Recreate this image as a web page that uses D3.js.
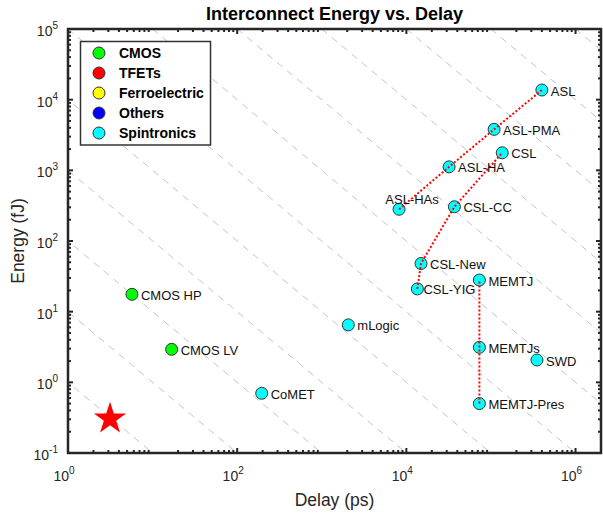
<!DOCTYPE html>
<html>
<head>
<meta charset="utf-8">
<script src="https://cdn.jsdelivr.net/npm/d3@7"></script>
<style>
  body { margin: 0; background: #fff; }
  svg { display: block; font-family: "Liberation Sans", Arial, sans-serif; }
</style>
</head>
<body>
<div id="fig"></div>
<script>
// data
const names = ["ASL", "ASL-PMA", "CSL", "ASL-HA", "ASL-HAs", "CSL-CC", "CSL-New", "CSL-YIG",
  "MEMTJ", "MEMTJs", "MEMTJ-Pres", "SWD", "mLogic", "CoMET", "CMOS HP", "CMOS LV"];
const delays = [4.0e5, 1.09e5, 1.36e5, 3.2e4, 8.2e3, 3.7e4, 1.49e4, 1.35e4,
  7.3e4, 7.3e4, 7.3e4, 3.5e5, 2.06e3, 195, 5.7, 16.8];
const energies = [1.37e4, 3.8e3, 1.77e3, 1.12e3, 281, 305, 48, 21,
  28, 3.13, 0.5, 2.07, 6.5, 0.7, 17.6, 2.93];
const groups = ["Spintronics", "Spintronics", "Spintronics", "Spintronics", "Spintronics",
  "Spintronics", "Spintronics", "Spintronics", "Spintronics", "Spintronics", "Spintronics",
  "Spintronics", "Spintronics", "Spintronics", "CMOS", "CMOS"];

const categories = ["CMOS", "TFETs", "Ferroelectric", "Others", "Spintronics"];
const catColors = ["#00ff00", "#ff0000", "#ffff00", "#0000ff", "#00ffff"];

// dotted red trend lines
const chains = [
  ["ASL-HAs", "ASL-HA", "ASL-PMA", "ASL"],
  ["CSL-YIG", "CSL-New", "CSL-CC", "CSL"],
  ["MEMTJ-Pres", "MEMTJs", "MEMTJ"]
];

const target = { delay: 3.14, energy: 0.305 };

const xTicks = [1, 1e2, 1e4, 1e6];
const xExps = ["0", "2", "4", "6"];
const yTicks = [0.1, 1, 10, 1e2, 1e3, 1e4, 1e5];
const yExps = ["-1", "0", "1", "2", "3", "4", "5"];
const isoExps = d3.range(0, 12); // E*D = 10^k

function main() {
  const width = 603, height = 514;
  const left = 68, right = 601, top = 29, bottom = 453;
  const axisColor = "#262626";

  const svg = d3.select("#fig").append("svg")
    .attr("width", width)
    .attr("height", height);

  const x = d3.scaleLog().domain([1, 2e6]).range([left, right]);
  const y = d3.scaleLog().domain([0.1, 1e5]).range([bottom, top]);

  svg.append("clipPath").attr("id", "clip")
    .append("rect")
    .attr("x", left).attr("y", top)
    .attr("width", right - left).attr("height", bottom - top);

  // iso energy-delay lines
  svg.append("g")
    .attr("clip-path", "url(#clip)")
    .selectAll("line")
    .data(isoExps)
    .join("line")
      .attr("x1", k => x(Math.pow(10, k - 5)))
      .attr("y1", y(1e5))
      .attr("x2", k => x(Math.pow(10, k + 1)))
      .attr("y2", y(0.1))
      .attr("stroke", "#c4c4c4")
      .attr("stroke-width", 1)
      .attr("stroke-dasharray", "7,6");

  // axes with inward ticks on all sides
  const tickLen = 5, minorLen = 3;
  const xMinor = [], yMinor = [];
  for (let e = 0; e < 7; e++) for (let m = 2; m < 10; m++) {
    const v = m * Math.pow(10, e);
    if (v < 2e6) xMinor.push(v);
  }
  for (let e = -1; e < 5; e++) for (let m = 2; m < 10; m++) yMinor.push(m * Math.pow(10, e));

  const axes = svg.append("g")
    .attr("stroke", axisColor)
    .attr("stroke-width", 2);

  const xTickData = xTicks.map(v => ({ v, len: tickLen })).concat(xMinor.map(v => ({ v, len: minorLen })));
  const yTickData = yTicks.map(v => ({ v, len: tickLen })).concat(yMinor.map(v => ({ v, len: minorLen })));

  axes.selectAll(".xb").data(xTickData).join("line")
    .attr("x1", d => x(d.v)).attr("x2", d => x(d.v))
    .attr("y1", bottom).attr("y2", d => bottom - d.len);
  axes.selectAll(".xt").data(xTickData).join("line")
    .attr("class", "xt")
    .attr("x1", d => x(d.v)).attr("x2", d => x(d.v))
    .attr("y1", top).attr("y2", d => top + d.len);
  axes.selectAll(".yl").data(yTickData).join("line")
    .attr("class", "yl")
    .attr("y1", d => y(d.v)).attr("y2", d => y(d.v))
    .attr("x1", left).attr("x2", d => left + d.len);
  axes.selectAll(".yr").data(yTickData).join("line")
    .attr("class", "yr")
    .attr("y1", d => y(d.v)).attr("y2", d => y(d.v))
    .attr("x1", right).attr("x2", d => right - d.len);

  svg.append("rect")
    .attr("x", left).attr("y", top)
    .attr("width", right - left).attr("height", bottom - top)
    .attr("fill", "none")
    .attr("stroke", axisColor)
    .attr("stroke-width", 2.5);

  // tick labels
  const xl = svg.append("g").attr("fill", axisColor).attr("font-size", 14)
    .selectAll("text").data(xTicks).join("text")
      .attr("x", d => x(d) - 4)
      .attr("y", bottom + 28)
      .attr("text-anchor", "middle");
  xl.append("tspan").text("10");
  xl.append("tspan").attr("font-size", 10).attr("dy", -7).text((d, i) => xExps[i]);

  const yl = svg.append("g").attr("fill", axisColor).attr("font-size", 14)
    .selectAll("text").data(yTicks).join("text")
      .attr("x", 58)
      .attr("y", d => y(d) + 7)
      .attr("text-anchor", "end");
  yl.append("tspan").text("10");
  yl.append("tspan").attr("font-size", 10).attr("dy", -7).text((d, i) => yExps[i]);

  // title & axis labels
  svg.append("text")
    .attr("x", (left + right) / 2).attr("y", 20)
    .attr("text-anchor", "middle")
    .attr("font-weight", "bold").attr("font-size", 18)
    .attr("fill", "#000")
    .text("Interconnect Energy vs. Delay");
  svg.append("text")
    .attr("x", (left + right) / 2).attr("y", 506)
    .attr("text-anchor", "middle")
    .attr("font-size", 17.5)
    .attr("fill", axisColor)
    .text("Delay (ps)");
  svg.append("text")
    .attr("transform", `translate(23.5,${(top + bottom) / 2}) rotate(-90)`)
    .attr("text-anchor", "middle")
    .attr("font-size", 17.5)
    .attr("fill", axisColor)
    .text("Energy (fJ)");

  // points
  const points = names.map((n, i) => ({ name: n, d: delays[i], e: energies[i], g: groups[i] }));
  const color = d3.scaleOrdinal().domain(categories).range(catColors);

  svg.append("g").selectAll("circle").data(points).join("circle")
    .attr("cx", p => x(p.d))
    .attr("cy", p => y(p.e))
    .attr("r", 6)
    .attr("fill", p => color(p.g))
    .attr("stroke", "#333")
    .attr("stroke-width", 1);

  const byName = new Map(points.map(p => [p.name, p]));
  const line = d3.line().x(p => x(p.d)).y(p => y(p.e));
  svg.append("g").selectAll("path").data(chains).join("path")
    .attr("d", c => line(c.map(n => byName.get(n))))
    .attr("fill", "none")
    .attr("stroke", "#ff0000")
    .attr("stroke-width", 2)
    .attr("stroke-dasharray", "2,2");

  // point labels
  const labelPlace = {
    "ASL-HAs": { dx: 13, dy: -10, anchor: "middle" },
    "CSL-YIG": { dx: 6, dy: 1, anchor: "start" }
  };
  svg.append("g").attr("font-size", 13).attr("fill", "#111")
    .selectAll("text").data(points).join("text")
      .attr("x", p => x(p.d) + (labelPlace[p.name] ? labelPlace[p.name].dx : 9))
      .attr("y", p => y(p.e) + (labelPlace[p.name] ? labelPlace[p.name].dy : 1))
      .attr("dy", "0.35em")
      .attr("text-anchor", p => labelPlace[p.name] ? labelPlace[p.name].anchor : "start")
      .text(p => p.name);

  // target star
  svg.append("path")
    .attr("d", d3.symbol().type(d3.symbolStar).size(324)())
    .attr("transform", `translate(${x(target.delay)},${y(target.energy)})`)
    .attr("fill", "#ff0000");

  // legend
  const lg = svg.append("g");
  lg.append("rect")
    .attr("x", 80.5).attr("y", 41.5)
    .attr("width", 130).attr("height", 103.5)
    .attr("fill", "#fff")
    .attr("stroke", "#333")
    .attr("stroke-width", 1.5);
  const items = lg.selectAll("g").data(categories).join("g")
    .attr("transform", (d, i) => `translate(99,${53 + i * 20})`);
  items.append("circle")
    .attr("r", 6)
    .attr("fill", (d, i) => catColors[i])
    .attr("stroke", "#333");
  items.append("text")
    .attr("x", 20)
    .attr("dy", "0.35em")
    .attr("font-size", 14)
    .attr("font-weight", "bold")
    .attr("fill", "#000")
    .text(d => d);
}

main();
</script>
</body>
</html>
